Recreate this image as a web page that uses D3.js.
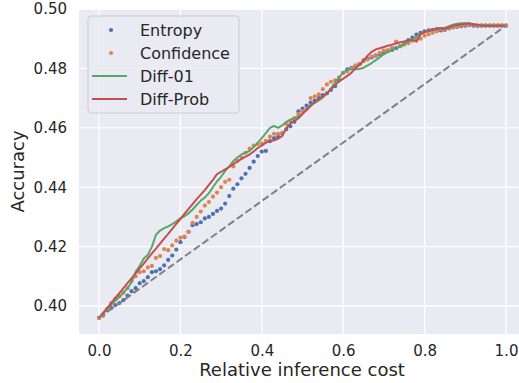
<!DOCTYPE html>
<html>
<head>
<meta charset="utf-8">
<script src="https://cdn.jsdelivr.net/npm/d3@7"></script>
<style>
    body { margin: 0; background: #ffffff; }
    text { font-family: 'DejaVu Sans', sans-serif; fill: #262626; }
</style>
</head>
<body>
<svg id="chart" width="519" height="383"></svg>
<script>
// relative inference cost (x) for every point
const cost = [
    0.00, 0.01, 0.02, 0.03, 0.04, 0.05, 0.06, 0.07, 0.08, 0.09,
    0.10, 0.11, 0.12, 0.13, 0.14, 0.15, 0.16, 0.17, 0.18, 0.19,
    0.20, 0.21, 0.22, 0.23, 0.24, 0.25, 0.26, 0.27, 0.28, 0.29,
    0.30, 0.31, 0.32, 0.33, 0.34, 0.35, 0.36, 0.37, 0.38, 0.39,
    0.40, 0.41, 0.42, 0.43, 0.44, 0.45, 0.46, 0.47, 0.48, 0.49,
    0.50, 0.51, 0.52, 0.53, 0.54, 0.55, 0.56, 0.57, 0.58, 0.59,
    0.60, 0.61, 0.62, 0.63, 0.64, 0.65, 0.66, 0.67, 0.68, 0.69,
    0.70, 0.71, 0.72, 0.73, 0.74, 0.75, 0.76, 0.77, 0.78, 0.79,
    0.80, 0.81, 0.82, 0.83, 0.84, 0.85, 0.86, 0.87, 0.88, 0.89,
    0.90, 0.91, 0.92, 0.93, 0.94, 0.95, 0.96, 0.97, 0.98, 0.99,
    1.00
];

const entropy = [
    .3960, .3970, .3985, .3995, .4003, .4010, .4020, .4035, .4050, .4060,
    .4077, .4084, .4097, .4114, .4117, .4124, .4137, .4155, .4170, .4190,
    .4215, .4232, .4250, .4272, .4276, .4282, .4295, .4300, .4310, .4320,
    .4328, .4345, .4370, .4395, .4410, .4430, .4445, .4465, .4486, .4505,
    .4520, .4522, .4555, .4565, .4570, .4580, .4595, .4605, .4620, .4655,
    .4665, .4675, .4685, .4692, .4700, .4710, .4716, .4728, .4740, .4760,
    .4785, .4797, .4802, .4807, .4814, .4827, .4833, .4837, .4843, .4848,
    .4852, .4858, .4862, .4868, .4875, .4885, .4895, .4904, .4914, .4920,
    .4925, .4928, .4930, .4932, .4928, .4930, .4935, .4938, .4940, .4942,
    .4944, .4946, .4944, .4943, .4944, .4944, .4944, .4944, .4944, .4944,
    .4944
];

const confidence = [
    .3960, .3967, .3990, .4010, .4023, .4033, .4045, .4060, .4084, .4100,
    .4114, .4117, .4130, .4135, .4162, .4168, .4192, .4188, .4204, .4220,
    .4230, .4234, .4250, .4280, .4300, .4318, .4338, .4350, .4368, .4382,
    .4400, .4418, .4425, .4470, .4489, .4499, .4516, .4530, .4540, .4545,
    .4548, .4556, .4570, .4580, .4580, .4583, .4613, .4623, .4633, .4646,
    .4656, .4663, .4700, .4706, .4713, .4730, .4746, .4755, .4760, .4770,
    .4785, .4790, .4800, .4810, .4815, .4825, .4830, .4840, .4845, .4852,
    .4860, .4862, .4870, .4890, .4875, .4880, .4885, .4893, .4898, .4900,
    .4910, .4915, .4920, .4925, .4932, .4933, .4935, .4940, .4942, .4945,
    .4947, .4948, .4947, .4945, .4945, .4945, .4945, .4945, .4945, .4945,
    .4945
];

const diff01 = [
    .3960, .3975, .3990, .4005, .4018, .4030, .4045, .4060, .4080, .4115,
    .4135, .4160, .4172, .4200, .4240, .4254, .4262, .4268, .4276, .4285,
    .4295, .4302, .4312, .4325, .4340, .4355, .4365, .4380, .4400, .4420,
    .4435, .4455, .4470, .4488, .4500, .4510, .4516, .4522, .4535, .4550,
    .4565, .4582, .4600, .4606, .4600, .4608, .4620, .4627, .4632, .4638,
    .4648, .4662, .4678, .4684, .4692, .4702, .4717, .4733, .4752, .4770,
    .4785, .4795, .4797, .4797, .4798, .4802, .4810, .4818, .4828, .4838,
    .4848, .4856, .4863, .4868, .4874, .4882, .4890, .4898, .4907, .4916,
    .4922, .4927, .4930, .4932, .4934, .4937, .4942, .4947, .4950, .4952,
    .4952, .4951, .4949, .4947, .4945, .4945, .4944, .4944, .4944, .4944,
    .4944
];

const diffProb = [
    .3960, .3977, .3993, .4010, .4027, .4043, .4060, .4077, .4093, .4110,
    .4127, .4143, .4160, .4177, .4193, .4210, .4227, .4243, .4260, .4277,
    .4293, .4310, .4327, .4343, .4360, .4375, .4390, .4408, .4425, .4444,
    .4452, .4460, .4468, .4478, .4486, .4495, .4503, .4510, .4520, .4532,
    .4540, .4550, .4555, .4558, .4563, .4572, .4598, .4615, .4622, .4632,
    .4646, .4660, .4673, .4685, .4698, .4706, .4716, .4730, .4743, .4757,
    .4765, .4775, .4785, .4800, .4812, .4826, .4843, .4856, .4864, .4868,
    .4872, .4876, .4880, .4884, .4888, .4891, .4894, .4896, .4890, .4915,
    .4922, .4926, .4930, .4934, .4935, .4934, .4937, .4944, .4946, .4948,
    .4950, .4951, .4948, .4946, .4944, .4944, .4944, .4944, .4944, .4944,
    .4944
];

// random-routing baseline (straight diagonal)
const baselineCost = [0, 1];
const baselineAcc = [0.396, 0.4944];

const xTicks = [0.0, 0.2, 0.4, 0.6, 0.8, 1.0];
const yTicks = [0.40, 0.42, 0.44, 0.46, 0.48, 0.50];

const seriesNames = ['Entropy', 'Confidence', 'Diff-01', 'Diff-Prob'];
const seriesColors = ['#4C72B0', '#DD8452', '#55A868', '#C44E52'];

const plot = { left: 79, right: 526, top: 9, bottom: 334 };

const x = d3.scaleLinear()
    .domain([0, 1])
    .range([99, 506]);

const y = d3.scaleLinear()
    .domain([0.40, 0.50])
    .range([306, 9]);

const svg = d3.select('#chart');

svg.append('rect')
    .attr('x', plot.left)
    .attr('y', plot.top)
    .attr('width', plot.right - plot.left)
    .attr('height', plot.bottom - plot.top)
    .attr('fill', '#EAEAF2');

svg.append('clipPath')
    .attr('id', 'clip')
    .append('rect')
        .attr('x', plot.left)
        .attr('y', plot.top)
        .attr('width', plot.right - plot.left)
        .attr('height', plot.bottom - plot.top);

// grid
const grid = svg.append('g');
grid.selectAll('.gx')
    .data(xTicks).enter()
    .append('line')
        .attr('x1', d => x(d)).attr('x2', d => x(d))
        .attr('y1', plot.top).attr('y2', plot.bottom)
        .attr('stroke', '#ffffff')
        .attr('stroke-width', 1.3);
grid.selectAll('.gy')
    .data(yTicks).enter()
    .append('line')
        .attr('x1', plot.left).attr('x2', plot.right)
        .attr('y1', d => y(d)).attr('y2', d => y(d))
        .attr('stroke', '#ffffff')
        .attr('stroke-width', 1.3);

// axes (seaborn style: no spines, no tick marks)
const xAxis = svg.append('g')
    .attr('transform', 'translate(0,' + plot.bottom + ')')
    .call(d3.axisBottom(x).tickValues(xTicks).tickFormat(d3.format('.1f')).tickSize(0).tickPadding(11));
const yAxis = svg.append('g')
    .attr('transform', 'translate(' + plot.left + ',0)')
    .call(d3.axisLeft(y).tickValues(yTicks).tickFormat(d3.format('.2f')).tickSize(0).tickPadding(12));

[xAxis, yAxis].forEach(function(a) {
    a.select('.domain').remove();
    a.selectAll('text')
        .attr('font-family', 'DejaVu Sans')
        .attr('font-size', 15)
        .attr('fill', '#262626');
});

svg.append('text')
    .attr('x', (plot.left + 519) / 2 + 3)
    .attr('y', 376)
    .attr('text-anchor', 'middle')
    .attr('font-size', 18)
    .text('Relative inference cost');

svg.append('text')
    .attr('transform', 'translate(24,' + ((plot.top + plot.bottom) / 2) + ') rotate(-90)')
    .attr('text-anchor', 'middle')
    .attr('font-size', 18)
    .text('Accuracy');

const marks = svg.append('g').attr('clip-path', 'url(#clip)');

const scatterSeries = [entropy, confidence];
scatterSeries.forEach(function(vals, s) {
    marks.append('g')
        .selectAll('circle')
        .data(vals).enter()
        .append('circle')
            .attr('cx', (d, i) => x(cost[i]))
            .attr('cy', d => y(d))
            .attr('r', 2.1)
            .attr('fill', seriesColors[s]);
});

const line = d3.line()
    .x((d, i) => x(cost[i]))
    .y(d => y(d));

[diff01, diffProb].forEach(function(vals, s) {
    marks.append('path')
        .datum(vals)
        .attr('d', line)
        .attr('fill', 'none')
        .attr('stroke', seriesColors[s + 2])
        .attr('stroke-width', 2)
        .attr('stroke-linejoin', 'round');
});

marks.append('path')
    .datum(baselineAcc)
    .attr('d', d3.line().x((d, i) => x(baselineCost[i])).y(d => y(d)))
    .attr('fill', 'none')
    .attr('stroke', '#808080')
    .attr('stroke-width', 2)
    .attr('stroke-dasharray', '7.4,3.2');

// legend
const legend = svg.append('g');
legend.append('rect')
    .attr('x', 88).attr('y', 16)
    .attr('width', 151).attr('height', 97)
    .attr('rx', 3)
    .attr('fill', '#EAEAF2')
    .attr('fill-opacity', 0.8)
    .attr('stroke', '#cccccc')
    .attr('stroke-width', 1);

seriesNames.forEach(function(name, i) {
    const cy = 30 + i * 23;
    if (i < 2) {
        legend.append('circle')
            .attr('cx', 111).attr('cy', cy)
            .attr('r', 2.1)
            .attr('fill', seriesColors[i]);
    } else {
        legend.append('line')
            .attr('x1', 92).attr('x2', 127)
            .attr('y1', cy).attr('y2', cy)
            .attr('stroke', seriesColors[i])
            .attr('stroke-width', 2);
    }
    legend.append('text')
        .attr('x', 140)
        .attr('y', cy)
        .attr('dy', '0.36em')
        .attr('font-size', 16)
        .text(name);
});
</script>
</body>
</html>
